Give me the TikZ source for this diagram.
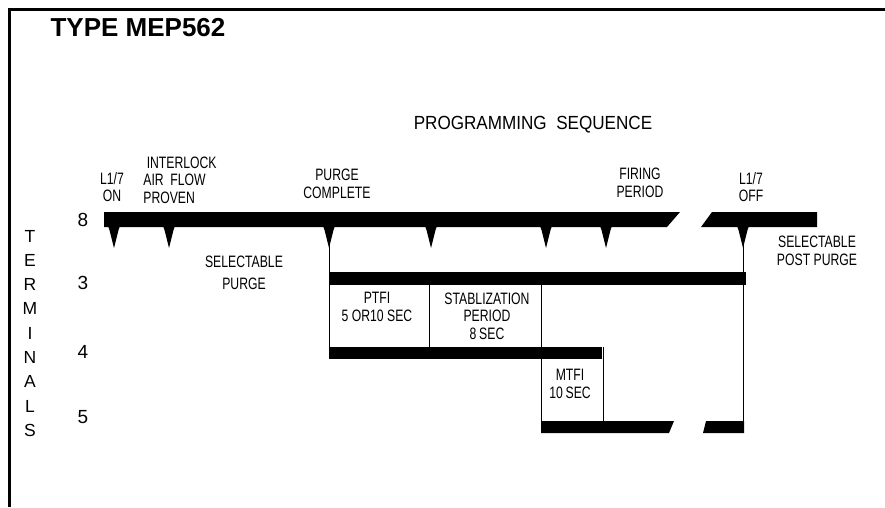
\documentclass[tikz,border=0pt]{standalone}
\usepackage{fontspec}
\setmainfont{Liberation Sans}
\newfontfamily\narrowsf[FakeStretch=0.74]{Liberation Sans}
\newfontfamily\widesf[FakeStretch=0.9]{Liberation Sans}
\tikzset{
  bar/.style={fill=black},
  pip/.style={fill=black},
  wire/.style={line width=0.8pt},
  lbl/.style={font=\narrowsf\fontsize{16.5}{17.5}\selectfont, align=center, inner sep=0pt},
  num/.style={font=\fontsize{19}{22}\selectfont, inner sep=0pt}
}
\begin{document}
\begin{tikzpicture}[x=1pt,y=-1pt]
	\useasboundingbox (0,0) rectangle (885,507);
	% frame
	\draw[line width=3pt] (9,507) -- (9,9) -- (885,9);
	\node[font=\bfseries\fontsize{26}{30}\selectfont, inner sep=0pt] (title) at (138,28) {TYPE MEP562};
	\node[font=\widesf\fontsize{19}{22}\selectfont, inner sep=0pt] (seq) at (533,125) {PROGRAMMING\ \ SEQUENCE};

	% terminal 8
	\fill[bar] (104,212) -- (680,212) -- (667,227) -- (104,227) -- cycle;
	\fill[bar] (712,212) -- (817,212) -- (817,227) -- (701,227) -- cycle;
	\foreach \x in {114,169,329,431,546,606,743}
		\fill[pip] (\x-6,226) -- (\x-4.5,230) -- (\x,248) -- (\x+4.5,230) -- (\x+6,226) -- cycle;
	% terminal 3, 4, 5
	\fill[bar] (329,272) rectangle (746,285);
	\fill[bar] (329,347) rectangle (602,359);
	\fill[bar] (541,421) -- (674,421) -- (669,433) -- (541,433) -- cycle;
	\fill[bar] (706,421) -- (744,421) -- (744,433) -- (703,433) -- cycle;

	\draw[wire] (329,227) -- (329,359);
	\draw[wire] (429,285) -- (429,347);
	\draw[wire] (541,285) -- (541,421);
	\draw[wire] (603,347) -- (603,421);
	\draw[wire] (743,227) -- (743,433);

	% labels
	\node[lbl] (on) at (112,187) {L1/7\\ON};
	\node[lbl, align=left] (ilk) at (180,180) {\ INTERLOCK\\AIR\ \ FLOW\\PROVEN};
	\node[lbl] (pc) at (337,184) {PURGE\\COMPLETE};
	\node[lbl] (fire) at (640,183) {FIRING\\PERIOD};
	\node[lbl] (off) at (751,187) {L1/7\\OFF};
	\node[lbl] (post) at (817,251) {SELECTABLE\\POST PURGE};
	\node[lbl] (spurge) at (244,273) {SELECTABLE\\[4pt]PURGE};
	\node[lbl] (ptfi) at (377,307) {PTFI\\5 OR10 SEC};
	\node[lbl] (stab) at (487,316) {STABLIZATION\\PERIOD\\8\,SEC};
	\node[lbl] (mtfi) at (570,384) {MTFI\\10\,SEC};

	\node[num] (t8) at (83,220) {8};
	\node[num] (t3) at (83,283) {3};
	\node[num] (t4) at (83,352) {4};
	\node[num] (t5) at (83,417) {5};
	\foreach \c [count=\i] in {T,E,R,M,I,N,A,L,S}
		\node[font=\fontsize{17.5}{20}\selectfont, inner sep=0pt] (tl\i) at (30,236+24.3*\i-24.3) {\c};
\end{tikzpicture}
\end{document}
